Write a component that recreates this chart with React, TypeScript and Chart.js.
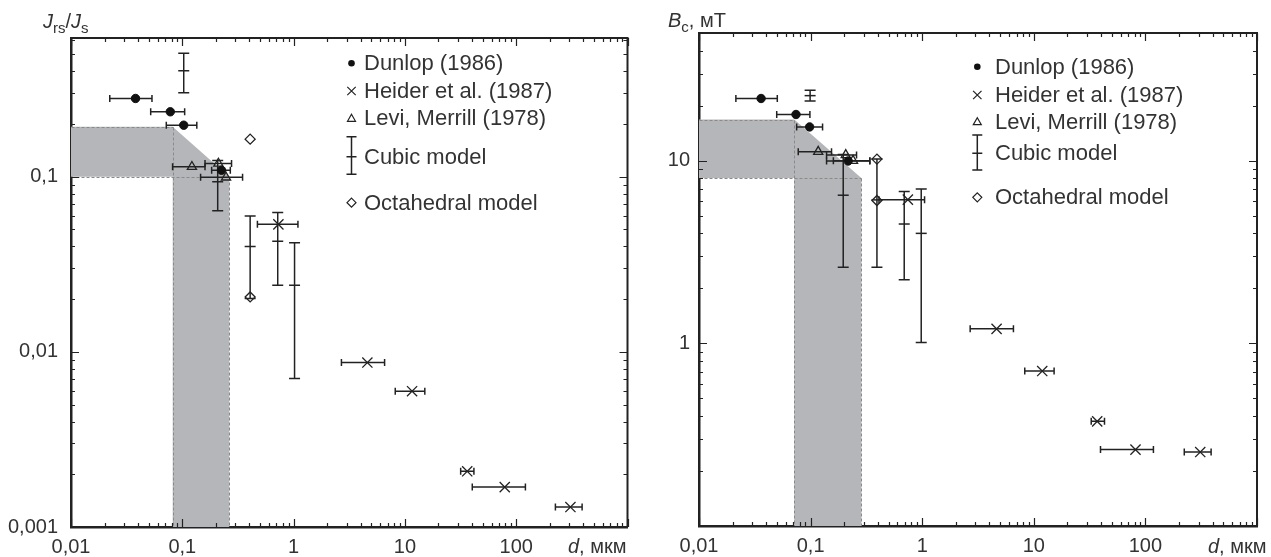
import React, { useEffect, useRef } from 'react';
import { Chart, registerables } from 'chart.js';

Chart.register(...registerables);

const FONT = "Arial, 'Liberation Sans', sans-serif";
const INK = '#222222';
const TEXT = '#333333';
const SHADE = '#b5b6b9';
const GUIDE = '#8a8a8a';

// ---------- shared x axis (particle size d, µm) ----------
const xMin = 0.01;
const xMax = 1000;
const xTickValues = [0.01, 0.1, 1, 10, 100];
const xTickLabels = ['0,01', '0,1', '1', '10', '100'];

const legendLabels = ['Dunlop (1986)', 'Heider et al. (1987)', 'Levi, Merrill (1978)', 'Cubic model', 'Octahedral model'];

// ---------- left panel: Jrs/Js ----------
const jYMin = 0.001;
const jYMax = 0.62;
const jTickValues = [0.001, 0.01, 0.1];
const jTickLabels = ['0,001', '0,01', '0,1'];

const jDunlopD = [0.038, 0.078, 0.103, 0.225];
const jDunlopV = [0.28, 0.235, 0.197, 0.109];
const jDunlopDLo = [0.0223, 0.052, 0.0718, 0.1835];
const jDunlopDHi = [0.0534, 0.105, 0.135, 0.27];

const jHeiderD = [0.73, 4.6, 11.6, 36.3, 78.9, 307];
const jHeiderV = [0.0535, 0.00869, 0.00596, 0.00208, 0.00169, 0.0013];
const jHeiderDLo = [0.473, 2.69, 8.19, 31.7, 40.3, 225];
const jHeiderDHi = [1.094, 6.57, 15.1, 41.7, 121, 391];

const jLeviD = [0.122, 0.211, 0.247];
const jLeviV = [0.114, 0.119, 0.0992];
const jLeviDLo = [0.0818, 0.16, 0.146];
const jLeviDHi = [0.16, 0.277, 0.348];

const jCubicD = [0.103, 0.208, 0.407, 0.72, 1.02];
const jCubicV = [0.403, 0.0936, 0.04, 0.0429, 0.024];
const jCubicVLo = [0.302, 0.064, 0.0202, 0.024, 0.00705];
const jCubicVHi = [0.507, 0.124, 0.0596, 0.0626, 0.042];

const jOctaD = [0.407, 0.407];
const jOctaV = [0.164, 0.0206];

const jShadeD = [0.01, 0.082, 0.264, 0.264, 0.082, 0.082, 0.01];
const jShadeV = [0.193, 0.193, 0.1, 0.001, 0.001, 0.1, 0.1];
const jGuideFromD = [0.01, 0.01, 0.082, 0.264];
const jGuideFromV = [0.193, 0.1, 0.193, 0.1];
const jGuideToD = [0.082, 0.264, 0.082, 0.264];
const jGuideToV = [0.193, 0.1, 0.001, 0.001];

// ---------- right panel: Bc, mT ----------
const bYMin = 0.1;
const bYMax = 50;
const bTickValues = [1, 10];
const bTickLabels = ['1', '10'];

const bDunlopD = [0.036, 0.074, 0.098, 0.217];
const bDunlopV = [21.9, 17.9, 15.3, 9.96];
const bDunlopDLo = [0.0214, 0.0497, 0.075, 0.139];
const bDunlopDHi = [0.0503, 0.0986, 0.128, 0.339];

const bHeiderD = [0.744, 4.64, 11.9, 37, 81.5, 310];
const bHeiderV = [6.12, 1.2, 0.705, 0.374, 0.262, 0.254];
const bHeiderDLo = [0.41, 2.69, 8.3, 32.7, 39.6, 223];
const bHeiderDHi = [1.05, 6.57, 15.2, 43, 118, 388];

const bLeviD = [0.117, 0.2065, 0.24];
const bLeviV = [11.2, 10.75, 10.0];
const bLeviDLo = [0.0775, 0.139, 0.16];
const bLeviDHi = [0.154, 0.258, 0.34];

const bCubicD = [0.099, 0.196, 0.393, 0.69, 0.98];
const bCubicV = [22.7, 6.47, 6.1, 4.5, 4.0];
const bCubicVLo = [21.2, 2.61, 2.61, 2.23, 1.01];
const bCubicVHi = [24.3, 10.8, 10.2, 6.77, 6.99];

const bOctaD = [0.393, 0.393];
const bOctaV = [10.2, 6.05];

const bShadeD = [0.01, 0.0714, 0.285, 0.285, 0.0714, 0.0714, 0.01];
const bShadeV = [16.8, 16.8, 8.03, 0.1, 0.1, 8.03, 8.03];
const bGuideFromD = [0.01, 0.01, 0.0714, 0.285];
const bGuideFromV = [16.8, 8.03, 16.8, 8.03];
const bGuideToD = [0.0714, 0.285, 0.0714, 0.285];
const bGuideToV = [16.8, 8.03, 0.1, 0.1];

// ---------- helpers ----------
function logTicks(min: number, max: number): number[] {
  const out: number[] = [];
  const e0 = Math.floor(Math.log10(min));
  const e1 = Math.ceil(Math.log10(max));
  for (let e = e0; e <= e1; e++) {
    for (let k = 1; k <= 9; k++) {
      const v = Number((k * Math.pow(10, e)).toPrecision(6));
      if (v >= min * 0.9999 && v <= max * 1.0001) out.push(v);
    }
  }
  return out;
}
function isDecade(v: number) {
  const l = Math.log10(v);
  return Math.abs(l - Math.round(l)) < 1e-6;
}
function labelFor(v: number, vals: number[], labels: string[]) {
  for (let i = 0; i < vals.length; i++) {
    if (Math.abs(Math.log10(v) - Math.log10(vals[i])) < 1e-6) return labels[i];
  }
  return '';
}
const pts = (d: number[], v: number[]) => d.map((x, i) => ({ x, y: v[i] }));

type PanelCfg = {
  id: string;
  width: number;
  left: number;
  yMin: number; yMax: number;
  yTickValues: number[]; yTickLabels: string[];
  yAxisWidth: number; xAxisHeight: number; padTop: number; padRight: number;
  yLabelPad: number;
  dunlop: [number[], number[], number[], number[]];
  heider: [number[], number[], number[], number[]];
  levi: [number[], number[], number[], number[]];
  cubic: [number[], number[], number[], number[]];
  octa: [number[], number[]];
  shade: [number[], number[]];
  guides: [number[], number[], number[], number[]];
  legend: { mx: number; tx: number; rows: number[]; barTop: number; barBot: number };
  yTitle: 'J' | 'B';
  yTitlePos: [number, number];
  xTitlePos: [number, number];
};

const panels: PanelCfg[] = [
  {
    id: 'J', width: 636, left: 0,
    yMin: jYMin, yMax: jYMax, yTickValues: jTickValues, yTickLabels: jTickLabels,
    yAxisWidth: 71, xAxisHeight: 30, padTop: 38, padRight: 8, yLabelPad: 13,
    dunlop: [jDunlopD, jDunlopV, jDunlopDLo, jDunlopDHi],
    heider: [jHeiderD, jHeiderV, jHeiderDLo, jHeiderDHi],
    levi: [jLeviD, jLeviV, jLeviDLo, jLeviDHi],
    cubic: [jCubicD, jCubicV, jCubicVLo, jCubicVHi],
    octa: [jOctaD, jOctaV],
    shade: [jShadeD, jShadeV],
    guides: [jGuideFromD, jGuideFromV, jGuideToD, jGuideToV],
    legend: { mx: 351.5, tx: 364, rows: [63.3, 91, 118.3, 156.7, 202.7], barTop: 136.7, barBot: 174.3 },
    yTitle: 'J', yTitlePos: [43, 28], xTitlePos: [568, 553],
  },
  {
    id: 'B', width: 635, left: 636,
    yMin: bYMin, yMax: bYMax, yTickValues: bTickValues, yTickLabels: bTickLabels,
    yAxisWidth: 63, xAxisHeight: 31, padTop: 33, padRight: 14, yLabelPad: 9,
    dunlop: [bDunlopD, bDunlopV, bDunlopDLo, bDunlopDHi],
    heider: [bHeiderD, bHeiderV, bHeiderDLo, bHeiderDHi],
    levi: [bLeviD, bLeviV, bLeviDLo, bLeviDHi],
    cubic: [bCubicD, bCubicV, bCubicVLo, bCubicVHi],
    octa: [bOctaD, bOctaV],
    shade: [bShadeD, bShadeV],
    guides: [bGuideFromD, bGuideFromV, bGuideToD, bGuideToV],
    legend: { mx: 341.3, tx: 359, rows: [66.7, 95, 121.7, 153.3, 197.3], barTop: 135, barBot: 170 },
    yTitle: 'B', yTitlePos: [32, 27], xTitlePos: [572, 553],
  },
];

function drawLegendMarker(ctx: CanvasRenderingContext2D, kind: number, x: number, y: number, p: PanelCfg) {
  ctx.save();
  ctx.strokeStyle = INK;
  ctx.fillStyle = '#111';
  ctx.lineWidth = 1.2;
  ctx.beginPath();
  if (kind === 0) {
    ctx.arc(x, y, 3.3, 0, Math.PI * 2);
    ctx.fill();
  } else if (kind === 1) {
    const h = 4.2;
    ctx.moveTo(x - h, y - h); ctx.lineTo(x + h, y + h);
    ctx.moveTo(x + h, y - h); ctx.lineTo(x - h, y + h);
    ctx.stroke();
  } else if (kind === 2) {
    ctx.moveTo(x, y - 4); ctx.lineTo(x + 4, y + 3); ctx.lineTo(x - 4, y + 3); ctx.closePath();
    ctx.stroke();
  } else if (kind === 3) {
    ctx.lineWidth = 1.5;
    const t = p.legend.barTop, b = p.legend.barBot;
    ctx.moveTo(x, t); ctx.lineTo(x, b);
    ctx.moveTo(x - 5, t); ctx.lineTo(x + 5, t);
    ctx.moveTo(x - 5, b); ctx.lineTo(x + 5, b);
    ctx.moveTo(x - 5, y); ctx.lineTo(x + 5, y);
    ctx.stroke();
  } else {
    ctx.moveTo(x, y - 4.5); ctx.lineTo(x + 4.5, y); ctx.lineTo(x, y + 4.5); ctx.lineTo(x - 4.5, y); ctx.closePath();
    ctx.stroke();
  }
  ctx.restore();
}

function makePlugin(p: PanelCfg) {
  return {
    id: 'panelDecor' + p.id,
    beforeDatasetsDraw(chart: any) {
      const { ctx, chartArea: a } = chart;
      const xs = chart.scales.x;
      const ys = chart.scales.y;
      const X = (v: number) => xs.getPixelForValue(v);
      const Y = (v: number) => ys.getPixelForValue(v);
      ctx.save();
      ctx.beginPath();
      ctx.rect(a.left, a.top, a.right - a.left, a.bottom - a.top);
      ctx.clip();
      // shaded domain
      const [sd, sv] = p.shade;
      ctx.beginPath();
      sd.forEach((d, i) => (i ? ctx.lineTo(X(d), Y(sv[i])) : ctx.moveTo(X(d), Y(sv[i]))));
      ctx.closePath();
      ctx.fillStyle = SHADE;
      ctx.fill();
      // dashed guides
      const [fd, fv, td, tv] = p.guides;
      ctx.setLineDash([3, 2]);
      ctx.strokeStyle = GUIDE;
      ctx.lineWidth = 1;
      fd.forEach((d, i) => {
        ctx.beginPath();
        ctx.moveTo(Math.round(X(d)) + 0.5, Math.round(Y(fv[i])) + 0.5);
        ctx.lineTo(Math.round(X(td[i])) + 0.5, Math.round(Y(tv[i])) + 0.5);
        ctx.stroke();
      });
      ctx.setLineDash([]);
      // horizontal error bars
      ctx.strokeStyle = INK;
      ctx.lineWidth = 1.5;
      const hbars = (set: [number[], number[], number[], number[]]) => {
        const [d, v, lo, hi] = set;
        d.forEach((_, i) => {
          const y = Y(v[i]);
          const x0 = X(lo[i]);
          const x1 = X(hi[i]);
          ctx.beginPath();
          ctx.moveTo(x0, y); ctx.lineTo(x1, y);
          ctx.moveTo(x0, y - 3.5); ctx.lineTo(x0, y + 3.5);
          ctx.moveTo(x1, y - 3.5); ctx.lineTo(x1, y + 3.5);
          ctx.stroke();
        });
      };
      hbars(p.dunlop);
      hbars(p.heider);
      hbars(p.levi);
      // vertical error bars (cubic model)
      const [cd, , clo, chi] = p.cubic;
      cd.forEach((d, i) => {
        const x = X(d);
        const y0 = Y(clo[i]);
        const y1 = Y(chi[i]);
        ctx.beginPath();
        ctx.moveTo(x, y0); ctx.lineTo(x, y1);
        ctx.moveTo(x - 5.5, y0); ctx.lineTo(x + 5.5, y0);
        ctx.moveTo(x - 5.5, y1); ctx.lineTo(x + 5.5, y1);
        ctx.stroke();
      });
      ctx.restore();
    },
    afterDraw(chart: any) {
      const { ctx, chartArea: a } = chart;
      const xs = chart.scales.x;
      const ys = chart.scales.y;
      ctx.save();
      // top & right frame lines
      ctx.strokeStyle = INK;
      ctx.lineWidth = 2;
      ctx.beginPath();
      ctx.moveTo(a.left, a.top); ctx.lineTo(a.right, a.top); ctx.lineTo(a.right, a.bottom);
      ctx.stroke();
      // inward tick marks on all sides
      ctx.lineWidth = 1.2;
      ctx.beginPath();
      xs.ticks.forEach((t: any) => {
        const px = Math.round(xs.getPixelForValue(t.value)) + 0.5;
        const L = isDecade(t.value) ? 8 : 4;
        ctx.moveTo(px, a.bottom); ctx.lineTo(px, a.bottom - L);
        ctx.moveTo(px, a.top); ctx.lineTo(px, a.top + L);
      });
      ys.ticks.forEach((t: any) => {
        const py = Math.round(ys.getPixelForValue(t.value)) + 0.5;
        const L = isDecade(t.value) ? 8 : 4;
        ctx.moveTo(a.left, py); ctx.lineTo(a.left + L, py);
        ctx.moveTo(a.right, py); ctx.lineTo(a.right - L, py);
      });
      ctx.stroke();
      // legend
      ctx.fillStyle = TEXT;
      ctx.font = `22px ${FONT}`;
      ctx.textBaseline = 'middle';
      ctx.textAlign = 'left';
      legendLabels.forEach((lab, i) => {
        const y = p.legend.rows[i];
        drawLegendMarker(ctx, i, p.legend.mx, y, p);
        ctx.fillStyle = TEXT;
        ctx.font = `22px ${FONT}`;
        ctx.fillText(lab, p.legend.tx, y + 1);
      });
      // axis titles
      ctx.textBaseline = 'alphabetic';
      ctx.fillStyle = TEXT;
      let [tx, ty] = p.yTitlePos;
      const put = (s: string, font: string, dy: number) => {
        ctx.font = font;
        ctx.fillText(s, tx, ty + dy);
        tx += ctx.measureText(s).width;
      };
      if (p.yTitle === 'J') {
        put('J', `italic 20px ${FONT}`, 0);
        put('rs', `15px ${FONT}`, 5);
        put('/', `20px ${FONT}`, 0);
        put('J', `italic 20px ${FONT}`, 0);
        put('s', `15px ${FONT}`, 5);
      } else {
        put('B', `italic 20px ${FONT}`, 0);
        put('c', `15px ${FONT}`, 5);
        put(', мТ', `20px ${FONT}`, 0);
      }
      [tx, ty] = p.xTitlePos;
      put('d', `italic 20px ${FONT}`, 0);
      put(', мкм', `20px ${FONT}`, 0);
      ctx.restore();
    },
  };
}

function buildConfig(p: PanelCfg): any {
  const [dd, dv] = p.dunlop;
  const [hd, hv] = p.heider;
  const [ld, lv] = p.levi;
  const [cd, cv] = p.cubic;
  const [od, ov] = p.octa;
  const common = { showLine: false, borderColor: INK, pointHoverRadius: 0 };
  return {
    type: 'scatter',
    data: {
      datasets: [
        { ...common, label: legendLabels[0], data: pts(dd, dv), pointStyle: 'circle', pointRadius: 4.2, backgroundColor: '#111', borderColor: '#111', borderWidth: 1 },
        { ...common, label: legendLabels[1], data: pts(hd, hv), pointStyle: 'crossRot', pointRadius: 7.2, borderWidth: 1.3, backgroundColor: 'rgba(0,0,0,0)' },
        { ...common, label: legendLabels[2], data: pts(ld, lv), pointStyle: 'triangle', pointRadius: 5.3, borderWidth: 1.3, backgroundColor: 'rgba(0,0,0,0)' },
        { ...common, label: legendLabels[3], data: pts(cd, cv), pointStyle: 'line', pointRadius: 5.5, borderWidth: 1.5, backgroundColor: 'rgba(0,0,0,0)' },
        { ...common, label: legendLabels[4], data: pts(od, ov), pointStyle: 'rectRot', pointRadius: 5, borderWidth: 1.3, backgroundColor: 'rgba(0,0,0,0)' },
      ],
    },
    options: {
      responsive: false,
      maintainAspectRatio: false,
      animation: false,
      events: [],
      layout: { padding: { left: 0, top: p.padTop, right: p.padRight, bottom: 0 } },
      plugins: { legend: { display: false }, tooltip: { enabled: false } },
      scales: {
        x: {
          type: 'logarithmic',
          position: 'bottom',
          min: xMin,
          max: xMax,
          afterBuildTicks: (s: any) => { s.ticks = logTicks(xMin, xMax).map((v) => ({ value: v })); },
          afterFit: (s: any) => { s.height = p.xAxisHeight; },
          grid: { display: false, drawTicks: false },
          border: { display: true, color: INK, width: 2.5 },
          ticks: {
            autoSkip: false, maxRotation: 0, minRotation: 0, padding: 8, color: TEXT,
            font: { family: FONT, size: 20 },
            callback: (v: any) => labelFor(Number(v), xTickValues, xTickLabels),
          },
        },
        y: {
          type: 'logarithmic',
          position: 'left',
          min: p.yMin,
          max: p.yMax,
          afterBuildTicks: (s: any) => { s.ticks = logTicks(p.yMin, p.yMax).map((v) => ({ value: v })); },
          afterFit: (s: any) => { s.width = p.yAxisWidth; },
          grid: { display: false, drawTicks: false },
          border: { display: true, color: INK, width: 2.5 },
          ticks: {
            autoSkip: false, padding: p.yLabelPad, color: TEXT,
            font: { family: FONT, size: 20 },
            callback: (v: any) => labelFor(Number(v), p.yTickValues, p.yTickLabels),
          },
        },
      },
    },
    plugins: [makePlugin(p)],
  };
}

function PanelChart({ p }: { p: PanelCfg }) {
  const ref = useRef<HTMLCanvasElement>(null);
  useEffect(() => {
    const chart = new Chart(ref.current as HTMLCanvasElement, buildConfig(p));
    return () => chart.destroy();
  }, [p]);
  return (
    <canvas
      ref={ref}
      width={p.width}
      height={557}
      style={{ position: 'absolute', left: p.left, top: 0, width: p.width, height: 557 }}
    />
  );
}

export default function App() {
  return (
    <div style={{ position: 'fixed', left: 0, top: 0, width: 1271, height: 557, background: '#ffffff', overflow: 'hidden' }}>
      {panels.map((p) => (
        <PanelChart key={p.id} p={p} />
      ))}
    </div>
  );
}
